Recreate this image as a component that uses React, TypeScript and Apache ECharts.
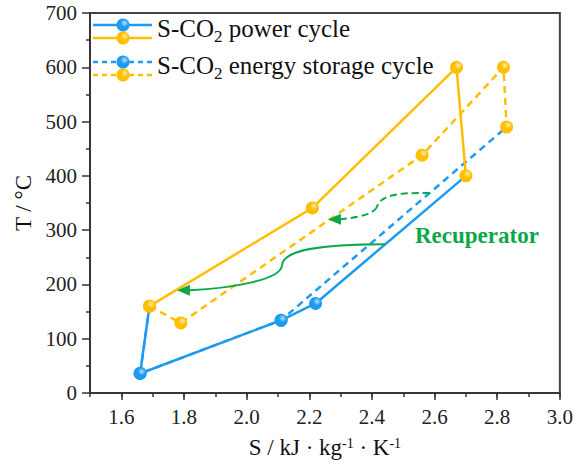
import React, { useEffect, useRef } from 'react';
import * as echarts from 'echarts';

// ---- data ----
const xTickValues = [1.6, 1.8, 2.0, 2.2, 2.4, 2.6, 2.8, 3.0];
// S-CO2 power cycle (solid)
const powerLow: number[][] = [[1.69, 160], [1.66, 36], [2.11, 134], [2.22, 165], [2.70, 400]];
const powerHigh: number[][] = [[1.69, 160], [2.21, 341], [2.67, 600], [2.70, 400]];
// S-CO2 energy storage cycle (dashed)
const storageLow: number[][] = [[1.69, 160], [1.66, 36], [2.11, 134], [2.83, 490]];
const storageHigh: number[][] = [[1.69, 160], [1.79, 129], [2.56, 438], [2.82, 600], [2.83, 490]];
// recuperator arrows (data coordinates): start, cp1, cp2, mid, cp1, cp2, end ; tip
const recupSolidPath: number[][] = [[2.4415, 274.2], [2.234, 274.2], [2.116, 263.1], [2.113, 235.4], [2.110, 207.7], [1.947, 193.0], [1.819, 189.2]];
const recupSolidTip: number[] = [1.7777, 189.2];
const recupDashedPath: number[][] = [[2.585, 368.2], [2.473, 370.0], [2.4255, 362.6], [2.416, 342.4], [2.400, 325.8], [2.330, 322.1], [2.301, 320.2]];
const recupDashedTip: number[] = [2.2596, 319.8];

const BLUE = '#1E9BF0';
const YELLOW = '#FFBF00';
const GREEN = '#0BA84A';
const FONT = '"Liberation Serif", "Times New Roman", serif';

const ball = (base: string, light: string) =>
  new echarts.graphic.RadialGradient(0.62, 0.35, 0.75, [
    { offset: 0, color: light },
    { offset: 0.4, color: base },
    { offset: 1, color: base },
  ]);

const yellowPts = [...powerHigh, ...storageHigh];
const isYellowPt = (p: number[]) => yellowPts.some((q) => q[0] === p[0] && q[1] === p[1]);
const blueItems = (arr: number[][]) =>
  arr.map((p) => (isYellowPt(p) ? { value: p, symbol: 'none' } : { value: p }));

export default function App() {
  const ref = useRef<HTMLDivElement>(null);
  useEffect(() => {
    document.body.style.margin = '0';
    const chart = echarts.init(ref.current!, null, { renderer: 'svg' });
    const blueBall = ball(BLUE, '#B5E3FF');
    const yellowBall = ball(YELLOW, '#FFEDB0');

    const lineSeries = (name: string, data: any[], color: string, dashed: boolean, fillBall: any) => ({
      type: 'line',
      name,
      data,
      symbol: 'circle',
      symbolSize: 13,
      showSymbol: true,
      lineStyle: { color, width: 2.5, type: dashed ? [7, 5] : 'solid' },
      itemStyle: { color: fillBall, borderWidth: 0 },
      z: 3,
    });

    const arrowGroup = (api: any, path: number[][], tip: number[], dashed: boolean) => {
      const P = path.map((p) => api.coord(p));
      const style = { stroke: GREEN, lineWidth: 2, fill: 'none', lineDash: dashed ? [7, 4] : null };
      const T = api.coord(tip);
      const B = P[6];
      const dx = T[0] - B[0], dy = T[1] - B[1];
      const len = Math.sqrt(dx * dx + dy * dy) || 1;
      const nx = -dy / len, ny = dx / len;
      const w = 5.5;
      return [
        { type: 'bezierCurve', shape: { x1: P[0][0], y1: P[0][1], cpx1: P[1][0], cpy1: P[1][1], cpx2: P[2][0], cpy2: P[2][1], x2: P[3][0], y2: P[3][1] }, style },
        { type: 'bezierCurve', shape: { x1: P[3][0], y1: P[3][1], cpx1: P[4][0], cpy1: P[4][1], cpx2: P[5][0], cpy2: P[5][1], x2: P[6][0], y2: P[6][1] }, style },
        { type: 'polygon', shape: { points: [T, [B[0] + nx * w, B[1] + ny * w], [B[0] - nx * w, B[1] - ny * w]] }, style: { fill: GREEN } },
      ];
    };

    const legendRow = (y: number, dashed: boolean, label: string) => {
      const dash = dashed ? [5, 4] : null;
      return [
        { type: 'line', shape: { x1: 93, y1: y, x2: 152, y2: y }, style: { stroke: BLUE, lineWidth: 2.5, lineDash: dash } },
        { type: 'circle', shape: { cx: 123, cy: y, r: 6.5 }, style: { fill: blueBall } },
        { type: 'line', shape: { x1: 93, y1: y + 13, x2: 152, y2: y + 13 }, style: { stroke: YELLOW, lineWidth: 2.5, lineDash: dash } },
        { type: 'circle', shape: { cx: 123, cy: y + 13, r: 6.5 }, style: { fill: yellowBall } },
        {
          type: 'text', x: 157, y: y + 6.5,
          style: {
            text: `{a|S-CO}{s|2}{a|${label}}`,
            verticalAlign: 'middle',
            rich: {
              a: { fontSize: 25, fontFamily: FONT, fill: '#111', lineHeight: 26, padding: [0, 0, 4, 0], verticalAlign: 'bottom' },
              s: { fontSize: 17, fontFamily: FONT, fill: '#111', lineHeight: 16, verticalAlign: 'bottom' },
            },
          },
        },
      ];
    };

    chart.setOption({
      animation: false,
      grid: { left: 90, right: 16, top: 13, bottom: 81, show: true, borderColor: '#444', borderWidth: 2, backgroundColor: 'transparent' },
      xAxis: [
        {
          type: 'value', min: 1.5, max: 3.0, interval: 0.1,
          name: '{a|S / kJ · kg}{b|-1}{a| · K}{b|-1}',
          nameLocation: 'middle', nameGap: 43,
          nameTextStyle: {
            rich: {
              a: { fontSize: 23, fontFamily: FONT, color: '#111', lineHeight: 24, verticalAlign: 'top' },
              b: { fontSize: 14, fontFamily: FONT, color: '#111', lineHeight: 13, verticalAlign: 'top' },
            },
          },
          axisLine: { show: true, onZero: false, lineStyle: { color: '#333', width: 1.5 } },
          axisTick: { show: true, inside: false, length: 7, customValues: xTickValues, lineStyle: { color: '#333', width: 1.5 } },
          axisLabel: { customValues: xTickValues, fontSize: 21, fontFamily: FONT, color: '#222', margin: 13, formatter: (v: number) => v.toFixed(1) },
          splitLine: { show: false },
        },
        {
          type: 'value', min: 1.5, max: 3.0, interval: 0.1, position: 'bottom',
          axisLine: { show: false },
          axisTick: { show: true, length: 4, lineStyle: { color: '#333', width: 1.5 } },
          axisLabel: { show: false },
          splitLine: { show: false },
        },
      ],
      yAxis: {
        type: 'value', min: 0, max: 700, interval: 100,
        name: 'T / °C', nameLocation: 'middle', nameGap: 54,
        nameTextStyle: { fontSize: 23, fontFamily: FONT, color: '#111' },
        axisLine: { show: true, lineStyle: { color: '#333', width: 1.5 } },
        axisTick: { show: true, length: 8, lineStyle: { color: '#333', width: 1.5 } },
        minorTick: { show: true, splitNumber: 2, length: 4, lineStyle: { color: '#333', width: 1.5 } },
        axisLabel: { fontSize: 21, fontFamily: FONT, color: '#222', margin: 13 },
        splitLine: { show: false },
      },
      series: [
        lineSeries('storage-blue', blueItems(storageLow), BLUE, true, blueBall),
        lineSeries('power-blue', blueItems(powerLow), BLUE, false, blueBall),
        lineSeries('storage-yellow', storageHigh, YELLOW, true, yellowBall),
        lineSeries('power-yellow', powerHigh, YELLOW, false, yellowBall),
        {
          type: 'custom',
          name: 'recuperator',
          data: [[2, 300]],
          clip: false,
          z: 4,
          renderItem: (params: any, api: any) => ({
            type: 'group',
            children: [
              ...arrowGroup(api, recupSolidPath, recupSolidTip, false),
              ...arrowGroup(api, recupDashedPath, recupDashedTip, true),
            ],
          }),
        },
      ],
      graphic: [
        ...legendRow(25, false, ' power cycle'),
        ...legendRow(62, true, ' energy storage cycle'),
        {
          type: 'text', x: 415, y: 235,
          style: { text: 'Recuperator', fontSize: 23, fontWeight: 'bold', fontFamily: FONT, fill: GREEN, verticalAlign: 'middle' },
        },
      ],
    });
    return () => chart.dispose();
  }, []);
  return <div ref={ref} style={{ width: 576, height: 474 }} />;
}
